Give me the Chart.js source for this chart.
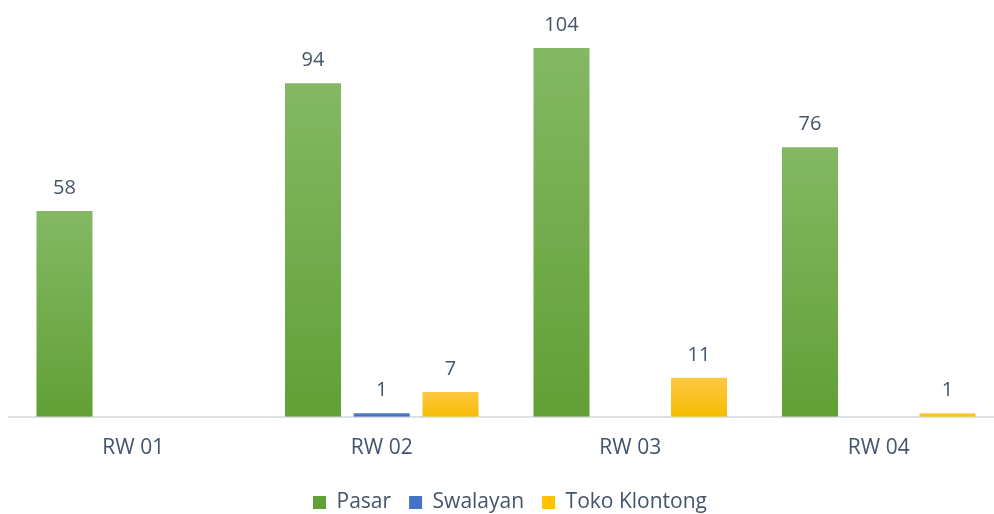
<!DOCTYPE html>
<html>
<head>
<meta charset="utf-8">
<script src="https://cdn.jsdelivr.net/npm/chart.js@4.4.1/dist/chart.umd.min.js"></script>
<style>
    html, body { margin: 0; padding: 0; background: #fff; overflow: hidden; }
    #wrap { position: relative; width: 1003px; height: 523px; }
</style>
</head>
<body>
<div id="wrap"><canvas id="chart"></canvas></div>
<script>
// Chart data
const categories = ['RW 01', 'RW 02', 'RW 03', 'RW 04'];
const pasar = [58, 94, 104, 76];
const swalayan = [null, 1, null, null];
const tokoKlontong = [null, 7, 11, 1];

const textColor = '#44546A';
const fontFamily = '"Open Sans", "Noto Sans", sans-serif';

// vertical gradient per bar, lighter at the top
function barGradient(top, bottom, solid) {
    return function (ctx) {
        if (ctx.type !== 'data') return solid;
        const chart = ctx.chart;
        const yScale = chart.scales.y;
        if (!yScale || ctx.raw == null) return solid;
        const yTop = yScale.getPixelForValue(ctx.raw);
        const yBase = yScale.getPixelForValue(0);
        if (!isFinite(yTop) || !isFinite(yBase) || yTop === yBase) return solid;
        const g = chart.ctx.createLinearGradient(0, yTop, 0, yBase);
        g.addColorStop(0, top);
        g.addColorStop(1, bottom);
        return g;
    };
}

// value labels above the bars
const valueLabels = {
    id: 'valueLabels',
    afterDatasetsDraw(chart) {
        const c = chart.ctx;
        c.save();
        c.font = '20px ' + fontFamily;
        c.fillStyle = textColor;
        c.textAlign = 'center';
        c.textBaseline = 'alphabetic';
        chart.data.datasets.forEach(function (ds, i) {
            const meta = chart.getDatasetMeta(i);
            meta.data.forEach(function (bar, j) {
                const v = ds.data[j];
                if (v == null) return;
                c.fillText(String(v), bar.x, bar.y - 17);
            });
        });
        c.restore();
    }
};

// nudge the legend a little to the right, like the original
const legendShift = {
    id: 'legendShift',
    afterLayout(chart) {
        if (!chart.legend) return;
        chart.legend.left += 4;
        chart.legend.right += 4;
    }
};

const ctx = document.getElementById('chart').getContext('2d');
new Chart(ctx, {
    type: 'bar',
    data: {
        labels: categories,
        datasets: [
            {
                label: 'Pasar',
                data: pasar,
                backgroundColor: barGradient('#84b864', '#61a035', '#70ad47'),
                borderWidth: 0
            },
            {
                label: 'Swalayan',
                data: swalayan,
                backgroundColor: barGradient('#4a7bd0', '#3f6cbd', '#4472c4'),
                borderWidth: 0
            },
            {
                label: 'Toko Klontong',
                data: tokoKlontong,
                backgroundColor: barGradient('#ffc843', '#f5bd00', '#ffc000'),
                borderWidth: 0
            }
        ]
    },
    options: {
        responsive: true,
        maintainAspectRatio: false,
        animation: false,
        categoryPercentage: 0.83,
        barPercentage: 0.815,
        layout: {
            padding: { left: 9, right: 0, top: 0, bottom: 0 }
        },
        plugins: {
            legend: {
                position: 'bottom',
                labels: {
                    boxWidth: 13,
                    boxHeight: 13,
                    padding: 18,
                    color: textColor,
                    font: { family: fontFamily, size: 21 }
                }
            },
            tooltip: { enabled: false }
        },
        scales: {
            x: {
                grid: { display: false },
                border: { display: true, color: '#dde1e6', width: 2 },
                ticks: {
                    color: textColor,
                    padding: 11,
                    font: { family: fontFamily, size: 21 }
                },
                afterFit: function (scale) {
                    scale.height += 2;
                }
            },
            y: {
                display: false,
                min: 0,
                max: 117.5
            }
        }
    },
    plugins: [valueLabels, legendShift]
});
</script>
</body>
</html>
